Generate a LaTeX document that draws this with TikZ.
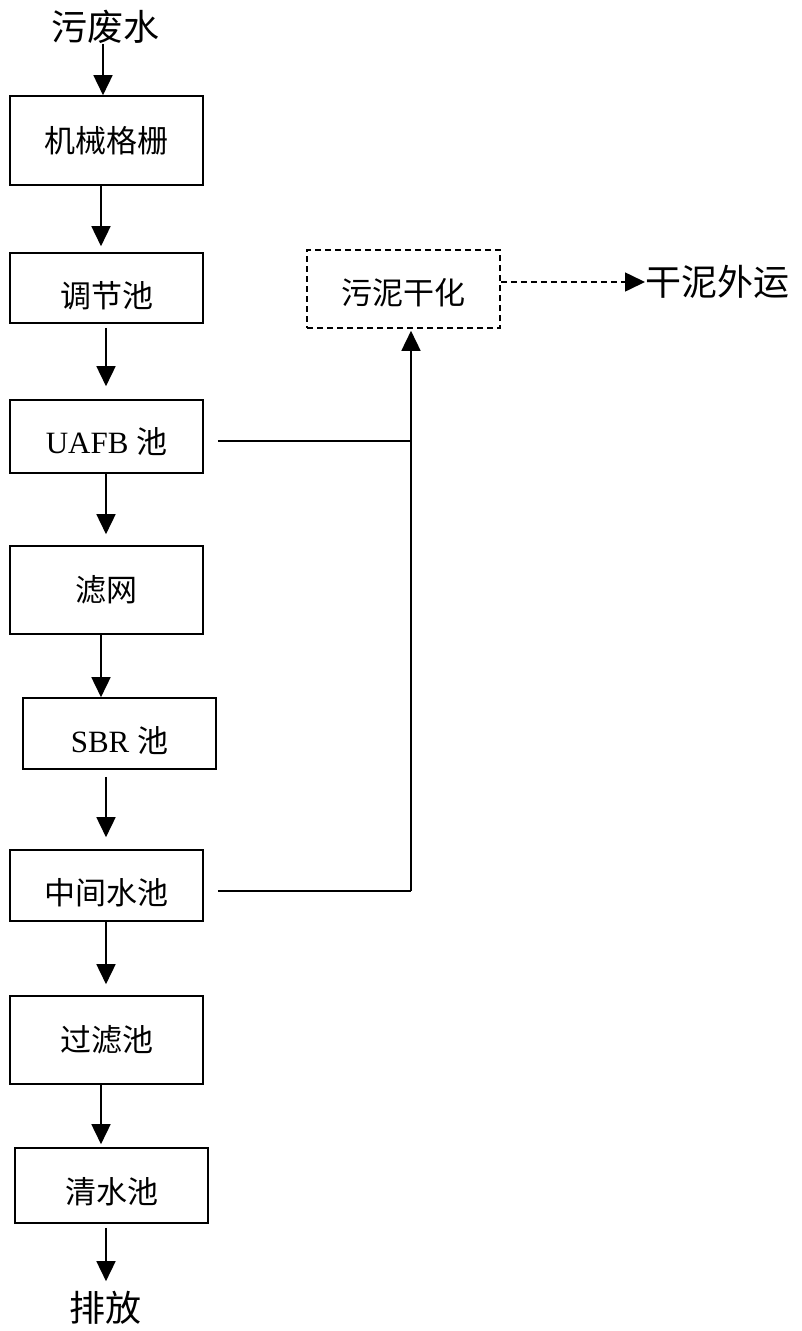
\documentclass[tikz,border=0pt]{standalone}
\usepackage{fontspec}
\setmainfont{Liberation Serif}
\newfontfamily\cjk{Noto Sans CJK SC}
\usetikzlibrary{arrows.meta}
\begin{document}
\begin{tikzpicture}[x=1pt,y=-1pt,
  box/.style={draw,line width=1.6pt,rectangle,minimum width=193pt,inner sep=0pt,
    font=\fontsize{31}{31}\selectfont,text depth=3.7pt,text height=27.3pt},
  dn/.style={text height=27.3pt+2*#1},
  dbox/.style={box,dash pattern=on 6pt off 4pt},
  lbl/.style={inner sep=0pt,font=\fontsize{36}{36}\selectfont\cjk},
  ln/.style={line width=1.6pt},
  arr/.style={ln,-{Triangle[length=20pt,width=19pt]}}]
\useasboundingbox[fill=white] (0,0) rectangle (801,1331);

\node[lbl] (src) at (105,27) {污废水};
\node[box,minimum height=89pt] (b1) at (106.5,140.5) {\cjk 机械格栅};
\node[box,dn=8pt,minimum height=70pt] (b2) at (106.5,288) {\cjk 调节池};
\node[box,dn=5pt,minimum height=73pt] (b3) at (106.5,436.5) {UAFB {\cjk 池}};
\node[box,minimum height=88pt] (b4) at (106.5,590) {\cjk 滤网};
\node[box,dn=7pt,minimum height=71pt] (b5) at (119.5,733.5) {SBR {\cjk 池}};
\node[box,dn=7pt,minimum height=71pt] (b6) at (106.5,885.5) {\cjk 中间水池};
\node[box,minimum height=88pt] (b7) at (106.5,1040) {\cjk 过滤池};
\node[box,dn=6pt,minimum height=75pt] (b8) at (111.5,1185.5) {\cjk 清水池};
\node[lbl] (dst) at (105,1308) {排放};
\node[dbox,dn=4pt,minimum height=78pt] (sl) at (403.5,289) {\cjk 污泥干化};
\node[lbl,anchor=west] (out) at (645,282) {干泥外运};

\draw[arr] (src.south -| 103,0) -- (b1.north -| 103,0);
\draw[arr,shorten >=6pt] (b1.south -| 101,0) -- (b2.north -| 101,0);
\draw[arr,shorten <=4pt,shorten >=13pt] (b2.south -| 106,0) -- (b3.north -| 106,0);
\draw[arr,shorten >=11pt] (b3.south -| 106,0) -- (b4.north -| 106,0);
\draw[arr] (b4.south -| 101,0) -- (b5.north -| 101,0);
\draw[arr,shorten <=7pt,shorten >=12pt] (b5.south -| 106,0) -- (b6.north -| 106,0);
\draw[arr,shorten >=11pt] (b6.south -| 106,0) -- (b7.north -| 106,0);
\draw[arr,shorten >=3pt] (b7.south -| 101,0) -- (b8.north -| 101,0);
\draw[arr,shorten <=4pt,shorten >=10pt] (b8.south -| 106,0) -- (dst.north -| 106,0);

\coordinate (j1) at (411,441);
\coordinate (j2) at (411,891);
\coordinate (j3) at (0,282);
\draw[ln,shorten <=14pt] (b3.east |- j1) -- (j1);
\draw[ln,shorten <=14pt] (b6.east |- j2) -- (j2);
\draw[arr,shorten >=2pt] (j2) -- (sl.south -| j2);
\draw[arr,dash pattern=on 6pt off 4pt] (sl.east |- j3) -- (out.west);
\end{tikzpicture}
\end{document}
